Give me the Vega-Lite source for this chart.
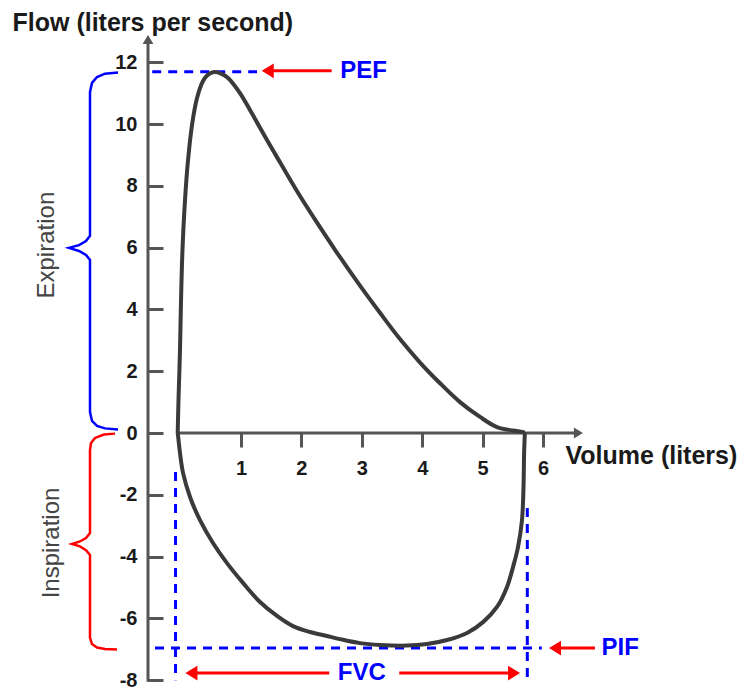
{
  "$schema": "https://vega.github.io/schema/vega-lite/v6.json",
  "width": 745,
  "height": 693,
  "padding": 0,
  "autosize": {"type": "none"},
  "background": "white",
  "config": {"view": {"stroke": null}, "font": "Liberation Sans"},
  "datasets": {
    "axes": [
      {"volume": -0.5397, "volume2": -0.5397, "flow": -8.05, "flow2": 12.6},
      {"volume": -0.048, "volume2": 6.55, "flow": 0, "flow2": 0}
    ],
    "loop": [
      {"phase": "expiration", "i": 0, "volume": -0.048, "flow": 0},
      {"phase": "expiration", "i": 1, "volume": -0.035, "flow": 1.07},
      {"phase": "expiration", "i": 2, "volume": -0.01, "flow": 2.69},
      {"phase": "expiration", "i": 3, "volume": 0.007, "flow": 4.3},
      {"phase": "expiration", "i": 4, "volume": 0.031, "flow": 5.92},
      {"phase": "expiration", "i": 5, "volume": 0.073, "flow": 7.54},
      {"phase": "expiration", "i": 6, "volume": 0.123, "flow": 8.83},
      {"phase": "expiration", "i": 7, "volume": 0.189, "flow": 9.97},
      {"phase": "expiration", "i": 8, "volume": 0.272, "flow": 10.84},
      {"phase": "expiration", "i": 9, "volume": 0.371, "flow": 11.39},
      {"phase": "expiration", "i": 10, "volume": 0.454, "flow": 11.6},
      {"phase": "expiration", "i": 11, "volume": 0.555, "flow": 11.68},
      {"phase": "expiration", "i": 12, "volume": 0.669, "flow": 11.63},
      {"phase": "expiration", "i": 13, "volume": 0.785, "flow": 11.49},
      {"phase": "expiration", "i": 14, "volume": 0.983, "flow": 11.0},
      {"phase": "expiration", "i": 15, "volume": 1.199, "flow": 10.28},
      {"phase": "expiration", "i": 16, "volume": 1.43, "flow": 9.48},
      {"phase": "expiration", "i": 17, "volume": 1.646, "flow": 8.76},
      {"phase": "expiration", "i": 18, "volume": 1.977, "flow": 7.67},
      {"phase": "expiration", "i": 19, "volume": 2.308, "flow": 6.66},
      {"phase": "expiration", "i": 20, "volume": 2.556, "flow": 5.93},
      {"phase": "expiration", "i": 21, "volume": 2.97, "flow": 4.77},
      {"phase": "expiration", "i": 22, "volume": 3.301, "flow": 3.89},
      {"phase": "expiration", "i": 23, "volume": 3.632, "flow": 3.04},
      {"phase": "expiration", "i": 24, "volume": 3.964, "flow": 2.28},
      {"phase": "expiration", "i": 25, "volume": 4.295, "flow": 1.61},
      {"phase": "expiration", "i": 26, "volume": 4.626, "flow": 1.0},
      {"phase": "expiration", "i": 27, "volume": 4.957, "flow": 0.52},
      {"phase": "expiration", "i": 28, "volume": 5.238, "flow": 0.19},
      {"phase": "expiration", "i": 29, "volume": 5.503, "flow": 0.08},
      {"phase": "expiration", "i": 30, "volume": 5.7, "flow": 0.02},
      {"phase": "inspiration", "i": 0, "volume": 5.7, "flow": 0.02},
      {"phase": "inspiration", "i": 1, "volume": 5.687, "flow": -0.65},
      {"phase": "inspiration", "i": 2, "volume": 5.677, "flow": -1.75},
      {"phase": "inspiration", "i": 3, "volume": 5.652, "flow": -2.82},
      {"phase": "inspiration", "i": 4, "volume": 5.586, "flow": -3.69},
      {"phase": "inspiration", "i": 5, "volume": 5.503, "flow": -4.34},
      {"phase": "inspiration", "i": 6, "volume": 5.404, "flow": -4.98},
      {"phase": "inspiration", "i": 7, "volume": 5.238, "flow": -5.63},
      {"phase": "inspiration", "i": 8, "volume": 5.007, "flow": -6.12},
      {"phase": "inspiration", "i": 9, "volume": 4.742, "flow": -6.47},
      {"phase": "inspiration", "i": 10, "volume": 4.411, "flow": -6.7},
      {"phase": "inspiration", "i": 11, "volume": 4.079, "flow": -6.83},
      {"phase": "inspiration", "i": 12, "volume": 3.748, "flow": -6.88},
      {"phase": "inspiration", "i": 13, "volume": 3.301, "flow": -6.86},
      {"phase": "inspiration", "i": 14, "volume": 2.97, "flow": -6.8},
      {"phase": "inspiration", "i": 15, "volume": 2.639, "flow": -6.67},
      {"phase": "inspiration", "i": 16, "volume": 2.424, "flow": -6.57},
      {"phase": "inspiration", "i": 17, "volume": 2.142, "flow": -6.44},
      {"phase": "inspiration", "i": 18, "volume": 1.861, "flow": -6.25},
      {"phase": "inspiration", "i": 19, "volume": 1.596, "flow": -5.92},
      {"phase": "inspiration", "i": 20, "volume": 1.315, "flow": -5.47},
      {"phase": "inspiration", "i": 21, "volume": 1.033, "flow": -4.85},
      {"phase": "inspiration", "i": 22, "volume": 0.768, "flow": -4.21},
      {"phase": "inspiration", "i": 23, "volume": 0.536, "flow": -3.56},
      {"phase": "inspiration", "i": 24, "volume": 0.321, "flow": -2.82},
      {"phase": "inspiration", "i": 25, "volume": 0.156, "flow": -2.07},
      {"phase": "inspiration", "i": 26, "volume": 0.04, "flow": -1.29},
      {"phase": "inspiration", "i": 27, "volume": -0.01, "flow": -0.65},
      {"phase": "inspiration", "i": 28, "volume": -0.038, "flow": -0.16},
      {"phase": "inspiration", "i": 29, "volume": -0.048, "flow": 0}
    ],
    "braces": [
      {"side": "Expiration", "i": 0, "volume": -1.036, "flow": 11.67},
      {"side": "Expiration", "i": 1, "volume": -1.252, "flow": 11.63},
      {"side": "Expiration", "i": 2, "volume": -1.384, "flow": 11.52},
      {"side": "Expiration", "i": 3, "volume": -1.467, "flow": 11.33},
      {"side": "Expiration", "i": 4, "volume": -1.5, "flow": 11.04},
      {"side": "Expiration", "i": 5, "volume": -1.5, "flow": 6.38},
      {"side": "Expiration", "i": 6, "volume": -1.566, "flow": 6.21},
      {"side": "Expiration", "i": 7, "volume": -1.682, "flow": 6.08},
      {"side": "Expiration", "i": 8, "volume": -1.848, "flow": 5.99},
      {"side": "Expiration", "i": 9, "volume": -1.682, "flow": 5.89},
      {"side": "Expiration", "i": 10, "volume": -1.566, "flow": 5.76},
      {"side": "Expiration", "i": 11, "volume": -1.5, "flow": 5.6},
      {"side": "Expiration", "i": 12, "volume": -1.5, "flow": 0.68},
      {"side": "Expiration", "i": 13, "volume": -1.467, "flow": 0.39},
      {"side": "Expiration", "i": 14, "volume": -1.384, "flow": 0.23},
      {"side": "Expiration", "i": 15, "volume": -1.252, "flow": 0.15},
      {"side": "Expiration", "i": 16, "volume": -1.036, "flow": 0.11},
      {"side": "Inspiration", "i": 0, "volume": -1.086, "flow": -0.02},
      {"side": "Inspiration", "i": 1, "volume": -1.268, "flow": -0.05},
      {"side": "Inspiration", "i": 2, "volume": -1.417, "flow": -0.16},
      {"side": "Inspiration", "i": 3, "volume": -1.483, "flow": -0.32},
      {"side": "Inspiration", "i": 4, "volume": -1.5, "flow": -0.55},
      {"side": "Inspiration", "i": 5, "volume": -1.5, "flow": -3.24},
      {"side": "Inspiration", "i": 6, "volume": -1.566, "flow": -3.4},
      {"side": "Inspiration", "i": 7, "volume": -1.666, "flow": -3.51},
      {"side": "Inspiration", "i": 8, "volume": -1.798, "flow": -3.59},
      {"side": "Inspiration", "i": 9, "volume": -1.666, "flow": -3.67},
      {"side": "Inspiration", "i": 10, "volume": -1.566, "flow": -3.79},
      {"side": "Inspiration", "i": 11, "volume": -1.5, "flow": -3.95},
      {"side": "Inspiration", "i": 12, "volume": -1.5, "flow": -6.63},
      {"side": "Inspiration", "i": 13, "volume": -1.467, "flow": -6.83},
      {"side": "Inspiration", "i": 14, "volume": -1.384, "flow": -6.94},
      {"side": "Inspiration", "i": 15, "volume": -1.252, "flow": -6.99},
      {"side": "Inspiration", "i": 16, "volume": -1.053, "flow": -7.01}
    ],
    "dashes": [
      {"name": "PEF", "volume": -0.47, "volume2": 1.265, "flow": 11.69, "flow2": 11.69},
      {"name": "PIF", "volume": -0.424, "volume2": 5.98, "flow": -6.96, "flow2": -6.96},
      {"name": "FVC start", "volume": -0.084, "volume2": -0.084, "flow": -1.26, "flow2": -8.0},
      {"name": "FVC end", "volume": 5.74, "volume2": 5.74, "flow": -2.43, "flow2": -8.0}
    ],
    "shafts": [
      {"name": "PEF", "volume": 1.45, "volume2": 2.5, "flow": 11.72, "flow2": 11.72},
      {"name": "PIF", "volume": 6.2, "volume2": 6.86, "flow": -6.96, "flow2": -6.96},
      {"name": "FVC left", "volume": 0.18, "volume2": 2.46, "flow": -7.77, "flow2": -7.77},
      {"name": "FVC right", "volume": 3.62, "volume2": 5.52, "flow": -7.77, "flow2": -7.77}
    ],
    "headsLeft": [
      {"name": "PEF", "volume": 1.343, "flow": 11.72},
      {"name": "PIF", "volume": 6.1, "flow": -6.96},
      {"name": "FVC left", "volume": 0.08, "flow": -7.77}
    ],
    "headsRight": [
      {"name": "FVC right", "volume": 5.62, "flow": -7.77}
    ],
    "axisHeadUp": [{"volume": -0.5397, "flow": 12.88}],
    "axisHeadRight": [{"volume": 6.66, "flow": 0}],
    "leftLabels": [
      {"label": "PEF", "volume": 2.644, "flow": 11.72},
      {"label": "PIF", "volume": 6.97, "flow": -6.96}
    ],
    "centerLabels": [
      {"label": "FVC", "volume": 3.0, "flow": -7.77}
    ],
    "phaseLabels": [
      {"label": "Expiration", "volume": -2.212, "flow": 6.08},
      {"label": "Inspiration", "volume": -2.129, "flow": -3.56}
    ]
  },
  "layer": [
    {
      "data": {"name": "axes"},
      "mark": {"type": "rule", "color": "#555555", "strokeWidth": 3},
      "encoding": {
        "x": {
          "field": "volume", "type": "quantitative",
          "scale": {"domain": [-2.99, 9.344], "nice": false, "zero": false},
          "axis": {
            "orient": "bottom", "offset": -260, "values": [1, 2, 3, 4, 5, 6],
            "labelExpr": "'' + datum.value",
            "domain": false, "grid": false,
            "tickSize": 14, "tickWidth": 3, "tickColor": "#555555",
            "labelPadding": 11, "labelFont": "Liberation Sans", "labelFontSize": 20,
            "labelFontWeight": "bold", "labelColor": "#1a1a1a", "labelFlush": false,
            "title": "Volume (liters)", "titleFont": "Liberation Sans", "titleFontSize": 25,
            "titleFontWeight": "bold", "titleColor": "#1a1a1a", "titleAngle": 0,
            "titleAlign": "left", "titleBaseline": "alphabetic", "titleX": 565, "titleY": 30
          }
        },
        "x2": {"field": "volume2"},
        "y": {
          "field": "flow", "type": "quantitative",
          "scale": {"domain": [-8.414, 14.013], "nice": false, "zero": false},
          "axis": {
            "orient": "left", "offset": -148, "values": [-8, -6, -4, -2, 0, 2, 4, 6, 8, 10, 12],
            "labelExpr": "'' + datum.value",
            "domain": false, "grid": false,
            "tickSize": -15, "tickWidth": 3, "tickColor": "#555555",
            "labelPadding": 26, "labelFont": "Liberation Sans", "labelFontSize": 20,
            "labelFontWeight": "bold", "labelColor": "#1a1a1a", "labelFlush": false,
            "title": "Flow (liters per second)", "titleFont": "Liberation Sans", "titleFontSize": 25,
            "titleFontWeight": "bold", "titleColor": "#1a1a1a", "titleAngle": 0,
            "titleAlign": "left", "titleBaseline": "alphabetic", "titleX": -136, "titleY": 30
          }
        },
        "y2": {"field": "flow2"}
      }
    },
    {
      "data": {"name": "axisHeadUp"},
      "mark": {"type": "point", "shape": "M0,0L-0.6,1L0.6,1Z", "size": 324, "filled": true, "color": "#555555", "opacity": 1},
      "encoding": {
        "x": {"field": "volume", "type": "quantitative"},
        "y": {"field": "flow", "type": "quantitative"}
      }
    },
    {
      "data": {"name": "axisHeadRight"},
      "mark": {"type": "point", "shape": "M0,0L-1,-0.6L-1,0.6Z", "size": 324, "filled": true, "color": "#555555", "opacity": 1},
      "encoding": {
        "x": {"field": "volume", "type": "quantitative"},
        "y": {"field": "flow", "type": "quantitative"}
      }
    },
    {
      "data": {"name": "dashes"},
      "mark": {"type": "rule", "color": "#0000ff", "strokeWidth": 3, "strokeDash": [9, 7]},
      "encoding": {
        "x": {"field": "volume", "type": "quantitative"},
        "x2": {"field": "volume2"},
        "y": {"field": "flow", "type": "quantitative"},
        "y2": {"field": "flow2"}
      }
    },
    {
      "data": {"name": "loop"},
      "mark": {"type": "line", "color": "#3a3a3a", "strokeWidth": 4, "interpolate": "catmull-rom"},
      "encoding": {
        "x": {"field": "volume", "type": "quantitative"},
        "y": {"field": "flow", "type": "quantitative"},
        "detail": {"field": "phase"},
        "order": {"field": "i", "type": "quantitative"}
      }
    },
    {
      "data": {"name": "braces"},
      "mark": {"type": "line", "strokeWidth": 2.5},
      "encoding": {
        "x": {"field": "volume", "type": "quantitative"},
        "y": {"field": "flow", "type": "quantitative"},
        "color": {"field": "side", "type": "nominal", "scale": {"domain": ["Expiration", "Inspiration"], "range": ["#0000ff", "#ff0000"]}, "legend": null},
        "order": {"field": "i", "type": "quantitative"}
      }
    },
    {
      "data": {"name": "shafts"},
      "mark": {"type": "rule", "color": "#ff0000", "strokeWidth": 3},
      "encoding": {
        "x": {"field": "volume", "type": "quantitative"},
        "x2": {"field": "volume2"},
        "y": {"field": "flow", "type": "quantitative"},
        "y2": {"field": "flow2"}
      }
    },
    {
      "data": {"name": "headsLeft"},
      "mark": {"type": "point", "shape": "M0,0L1,-0.62L1,0.62Z", "size": 576, "filled": true, "color": "#ff0000", "opacity": 1},
      "encoding": {
        "x": {"field": "volume", "type": "quantitative"},
        "y": {"field": "flow", "type": "quantitative"}
      }
    },
    {
      "data": {"name": "headsRight"},
      "mark": {"type": "point", "shape": "M0,0L-1,-0.62L-1,0.62Z", "size": 576, "filled": true, "color": "#ff0000", "opacity": 1},
      "encoding": {
        "x": {"field": "volume", "type": "quantitative"},
        "y": {"field": "flow", "type": "quantitative"}
      }
    },
    {
      "data": {"name": "leftLabels"},
      "mark": {"type": "text", "align": "left", "baseline": "middle", "font": "Liberation Sans", "fontSize": 24, "fontWeight": "bold", "color": "#0000ff"},
      "encoding": {
        "x": {"field": "volume", "type": "quantitative"},
        "y": {"field": "flow", "type": "quantitative"},
        "text": {"field": "label"}
      }
    },
    {
      "data": {"name": "centerLabels"},
      "mark": {"type": "text", "align": "center", "baseline": "middle", "font": "Liberation Sans", "fontSize": 24, "fontWeight": "bold", "color": "#0000ff"},
      "encoding": {
        "x": {"field": "volume", "type": "quantitative"},
        "y": {"field": "flow", "type": "quantitative"},
        "text": {"field": "label"}
      }
    },
    {
      "data": {"name": "phaseLabels"},
      "mark": {"type": "text", "align": "center", "baseline": "middle", "angle": 270, "font": "Liberation Sans", "fontSize": 24, "color": "#444444"},
      "encoding": {
        "x": {"field": "volume", "type": "quantitative"},
        "y": {"field": "flow", "type": "quantitative"},
        "text": {"field": "label"}
      }
    }
  ]
}
